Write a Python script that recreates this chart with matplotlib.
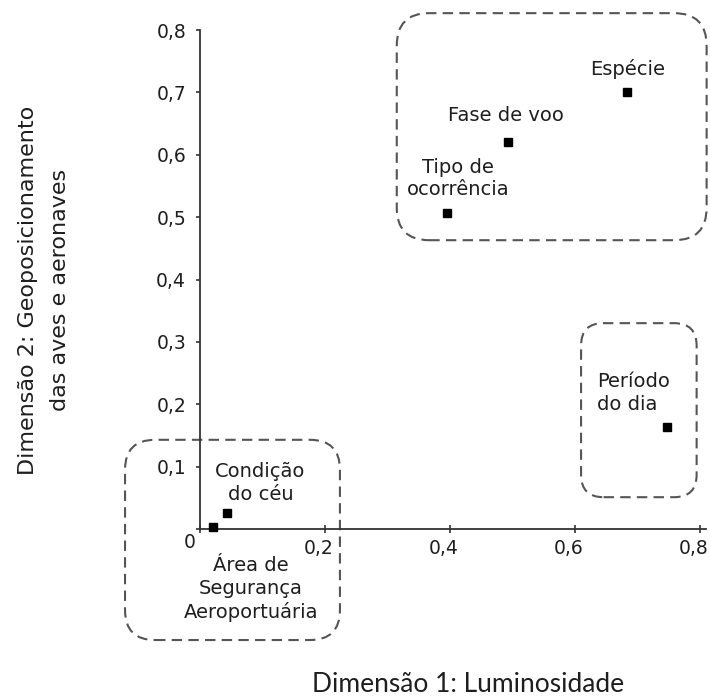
"""Correspondence-analysis style map: two dimensions, grouped variables."""

import matplotlib

matplotlib.use("Agg")
import matplotlib.pyplot as plt  # noqa: E402
import matplotlib.transforms as mtransforms  # noqa: E402
from matplotlib.patches import FancyBboxPatch  # noqa: E402
from matplotlib.ticker import FuncFormatter, MultipleLocator  # noqa: E402

# Data.
labels = ["Espécie", "Fase de voo", "Tipo de\nocorrência", "Período\ndo dia",
          "Condição\ndo céu", "Área de\nSegurança\nAeroportuária"]
dim1 = [0.684, 0.493, 0.395, 0.747, 0.044, 0.021]
dim2 = [0.701, 0.621, 0.506, 0.163, 0.026, 0.003]

# Label placement (pixel offsets from each point) and alignment.
label_offsets = [(0, 23), (-2, 26), (11, 35), (-70, 34), (33, 30), (38, -62)]
label_ha = ["center", "center", "center", "left", "center", "center"]

# Dashed group outlines in data units: x0, y0, x1, y1, corner radius.
groups = [
    (0.315, 0.463, 0.811, 0.827, 0.052),
    (0.610, 0.051, 0.795, 0.330, 0.036),
    (-0.120, -0.178, 0.224, 0.143, 0.048),
]

INK = "#1e1e1e"
DASH = "#555555"

W, H = 710, 698
fig = plt.figure(figsize=(W / 100, H / 100), dpi=100)
fig.patch.set_facecolor("white")
ax = fig.add_axes([200 / W, 1 - 529 / H, 506 / W, 499 / H])
ax.set_facecolor("none")
ax.set_xlim(0, 0.81)
ax.set_ylim(0, 0.8)

for side in ("top", "right"):
    ax.spines[side].set_visible(False)
for side in ("left", "bottom"):
    ax.spines[side].set_color("#333333")
    ax.spines[side].set_linewidth(1.3)

ax.xaxis.set_major_locator(MultipleLocator(0.2))
ax.yaxis.set_major_locator(MultipleLocator(0.1))
fmt = FuncFormatter(lambda v, _: "" if abs(v) < 1e-9 else f"{v:.1f}".replace(".", ","))
ax.xaxis.set_major_formatter(fmt)
ax.yaxis.set_major_formatter(fmt)
ax.tick_params(axis="x", direction="inout", length=6, width=1.2, color="#333333",
               labelsize=13.5, labelcolor=INK, pad=4)
ax.tick_params(axis="y", direction="out", length=3, width=1.2, color="#333333",
               labelsize=13.5, labelcolor=INK, pad=7)
# x tick labels sit a little left of their ticks in the original
shift = mtransforms.ScaledTranslation(-6 / 100, 0, fig.dpi_scale_trans)
for lab in ax.get_xticklabels():
    lab.set_transform(lab.get_transform() + shift)
ax.annotate("0", (0, 0), xytext=(-10, -13), textcoords="offset pixels",
            ha="center", va="center", fontsize=13.5, color=INK)

for x0, y0, x1, y1, r in groups:
    ax.add_patch(FancyBboxPatch(
        (x0, y0), x1 - x0, y1 - y0,
        boxstyle=f"round,pad=0,rounding_size={r}",
        facecolor="none", edgecolor=DASH, linewidth=1.5,
        linestyle=(0, (5, 3)), clip_on=False, zorder=1))

ax.plot(dim1, dim2, linestyle="none", marker="s", markersize=6,
        color="black", clip_on=False, zorder=3)

for x, y, lab, off, ha in zip(dim1, dim2, labels, label_offsets, label_ha):
    ax.annotate(lab, (x, y), xytext=off, textcoords="offset pixels",
                ha=ha, va="center", multialignment=ha, fontsize=14,
                color=INK, linespacing=1.25, zorder=4)

fig.text(44.5 / W, 1 - 290 / H,
         "Dimensão 2: Geoposicionamento\ndas aves e aeronaves",
         rotation=90, ha="center", va="center", multialignment="center",
         fontsize=16, color=INK, linespacing=1.75)
fig.text(468 / W, 1 - 684 / H, "Dimensão 1: Luminosidade",
         ha="center", va="center", fontsize=19, family="Lato", color=INK)

fig.savefig("out.png", dpi=100, facecolor="white")
